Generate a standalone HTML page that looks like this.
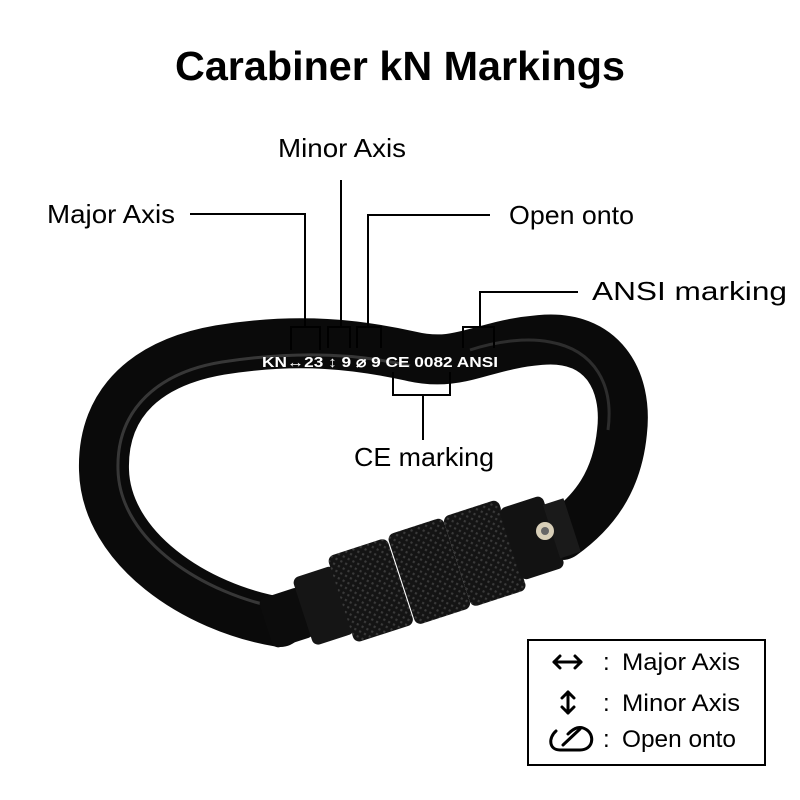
<!DOCTYPE html>
<html><head><meta charset="utf-8"><style>
html,body{margin:0;padding:0;background:#fff}
svg{display:block}
text{font-family:"Liberation Sans",sans-serif}
</style></head><body>
<svg width="800" height="800" viewBox="0 0 800 800" xmlns="http://www.w3.org/2000/svg">
<rect width="800" height="800" fill="#fff"/>
<text x="175" y="80" font-size="41" font-weight="bold" fill="#000" textLength="450" lengthAdjust="spacingAndGlyphs">Carabiner kN Markings</text>

<defs>
<pattern id="kn" width="5" height="5" patternUnits="userSpaceOnUse" patternTransform="rotate(45)">
<rect width="5" height="5" fill="#141414"/><rect width="2" height="2" fill="#3a3a3a"/>
</pattern>
</defs>
<path d="M 280,622 C 195,608 106,548 104,470 C 102,400 150,362 220,350 C 300,337 360,345 410,356 C 460,368 480,345 540,340 C 602,334 628,380 622,432 C 617,482 594,512 562,535"
 fill="none" stroke="#0a0a0a" stroke-width="50" stroke-linecap="round"/>
<path d="M 280,608 C 205,594 120,542 118,470 C 116,408 160,372 222,362 C 300,350 360,354 410,366"
 fill="none" stroke="#555" stroke-width="3" opacity="0.6"/>
<path d="M 470,350 C 500,340 530,338 550,342 C 595,350 614,385 608,430"
 fill="none" stroke="#444" stroke-width="3" opacity="0.6"/>

<g transform="translate(418,575) rotate(-18) scale(1.08)">
<rect x="-148" y="-24" width="40" height="48" rx="6" fill="#0c0c0c"/>
<rect x="-112" y="-33" width="40" height="66" rx="6" fill="#151515"/>
<rect x="-75" y="-42" width="58" height="84" rx="6" fill="url(#kn)"/>
<rect x="-16" y="-44" width="54" height="88" rx="6" fill="url(#kn)"/>
<rect x="38" y="-44" width="54" height="88" rx="6" fill="url(#kn)"/>
<rect x="90" y="-35" width="42" height="70" rx="6" fill="#121212"/>
<rect x="130" y="-26" width="20" height="52" fill="#1a1a1a"/>
</g>
<circle cx="545" cy="531" r="9" fill="#d8cfb8"/>
<circle cx="545" cy="531" r="4" fill="#666"/>

<text x="262" y="367" font-size="15" font-weight="bold" fill="#fff" textLength="236" lengthAdjust="spacingAndGlyphs">KN↔23 ↕ 9 ⌀ 9 CE 0082 ANSI</text>

<g stroke="#000" stroke-width="2" fill="none">
<polyline points="190,214 305,214 305,327"/>
<polyline points="291,350 291,327 320,327 320,350"/>
<line x1="341" y1="180" x2="341" y2="327"/>
<polyline points="328,348 328,327 350,327 350,348"/>
<polyline points="490,215 368,215 368,327"/>
<polyline points="357,348 357,327 381,327 381,348"/>
<polyline points="578,292 480,292 480,327"/>
<polyline points="463,348 463,327 494,327 494,348"/>
<polyline points="393,372 393,395 450,395 450,372"/>
<line x1="423" y1="395" x2="423" y2="440"/>
</g>

<g font-size="26" fill="#000">
<text x="278" y="157" textLength="128" lengthAdjust="spacingAndGlyphs">Minor Axis</text>
<text x="47" y="223" textLength="128" lengthAdjust="spacingAndGlyphs">Major Axis</text>
<text x="509" y="224" textLength="125" lengthAdjust="spacingAndGlyphs">Open onto</text>
<text x="592" y="300" textLength="195" lengthAdjust="spacingAndGlyphs">ANSI marking</text>
<text x="354" y="466" textLength="140" lengthAdjust="spacingAndGlyphs">CE marking</text>
</g>

<rect x="528" y="640" width="237" height="125" fill="#fff" stroke="#000" stroke-width="2"/>
<g font-size="24" fill="#000">
<text x="603" y="670">:</text><text x="622" y="670" textLength="118" lengthAdjust="spacingAndGlyphs">Major Axis</text>
<text x="603" y="711">:</text><text x="622" y="711" textLength="118" lengthAdjust="spacingAndGlyphs">Minor Axis</text>
<text x="603" y="747">:</text><text x="622" y="747" textLength="114" lengthAdjust="spacingAndGlyphs">Open onto</text>
</g>
<g stroke="#000" stroke-width="3" fill="none" stroke-linecap="round" stroke-linejoin="round">
<line x1="554" y1="662" x2="581" y2="662"/>
<polyline points="560,656 554,662 560,668"/>
<polyline points="575,656 581,662 575,668"/>
<line x1="568" y1="692" x2="568" y2="713"/>
<polyline points="562,698 568,692 574,698"/>
<polyline points="562,707 568,713 574,707"/>
<path d="M 556,731 C 548,738 549,750 560,750 L 580,750 C 593,750 595,736 587,730 C 580,725 574,728 568,734"/>
<line x1="563" y1="745" x2="580" y2="729"/>
</g>
</svg>
</body></html>
